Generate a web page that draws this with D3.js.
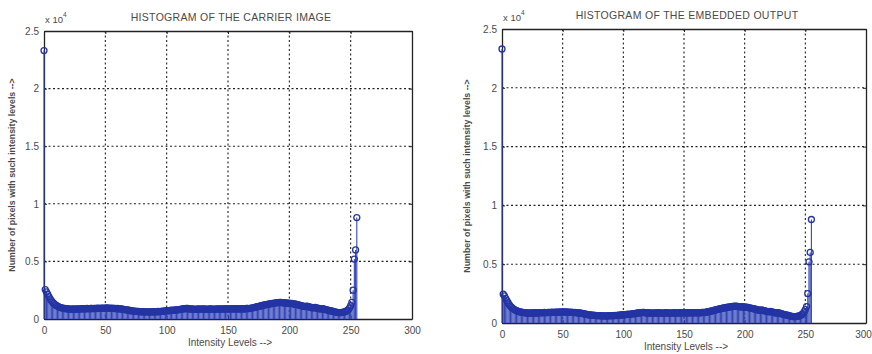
<!DOCTYPE html>
<html>
<head>
<meta charset="utf-8">
<script src="https://cdn.jsdelivr.net/npm/d3@7"></script>
<style>
  body { margin: 0; background: #fff; }
  svg { display: block; font-family: "Liberation Sans", Arial, sans-serif; }
</style>
</head>
<body>
<div id="chart"></div>
<script>
// intensity levels 0..255
const levels = d3.range(256);

// pixel counts per intensity level, carrier image
const carrierCounts = [
  23300, 2550, 2350, 2150, 1950, 1750, 1600, 1450, 1350, 1250, 1180, 1120, 1060, 1010, 980, 950,
  930, 910, 900, 880, 870, 860, 850, 860, 870, 850, 860, 880, 870, 860, 880, 890,
  900, 880, 890, 910, 900, 890, 920, 910, 900, 930, 920, 910, 940, 930, 920, 950,
  940, 930, 950, 960, 940, 950, 930, 940, 920, 930, 910, 900, 910, 890, 880, 870,
  860, 840, 820, 800, 780, 760, 740, 720, 700, 690, 680, 670, 660, 650, 640, 640,
  630, 630, 620, 620, 610, 620, 610, 620, 630, 620, 630, 640, 630, 650, 640, 660,
  670, 680, 690, 700, 720, 710, 730, 740, 760, 750, 770, 780, 800, 790, 820, 840,
  860, 870, 900, 890, 920, 910, 880, 870, 860, 880, 850, 840, 860, 850, 870, 860,
  850, 880, 860, 870, 850, 840, 860, 880, 870, 850, 860, 840, 870, 860, 880, 870,
  850, 870, 880, 860, 890, 870, 860, 880, 870, 890, 880, 870, 900, 890, 880, 870,
  890, 900, 880, 870, 890, 910, 920, 900, 930, 950, 970, 990, 1010, 1040, 1070, 1100,
  1120, 1150, 1170, 1200, 1220, 1250, 1270, 1290, 1310, 1330, 1350, 1360, 1380, 1400, 1420, 1430,
  1450, 1440, 1420, 1400, 1410, 1380, 1390, 1360, 1370, 1340, 1350, 1320, 1300, 1280, 1260, 1240,
  1210, 1180, 1150, 1120, 1100, 1080, 1120, 1090, 1060, 1030, 1000, 980, 960, 1000, 970, 940,
  910, 880, 860, 900, 870, 840, 810, 780, 750, 720, 700, 680, 650, 620, 600, 580,
  560, 550, 560, 570, 590, 620, 660, 720, 800, 950, 1150, 1450, 2500, 5200, 6000, 8800
];

// pixel counts per intensity level, embedded output
const embeddedCounts = [
  23300, 2450, 2300, 2100, 1900, 1720, 1560, 1420, 1320, 1230, 1160, 1100, 1050, 1000, 970, 940,
  920, 900, 890, 870, 860, 850, 840, 850, 860, 840, 850, 870, 860, 850, 870, 880,
  890, 870, 880, 900, 890, 880, 910, 900, 890, 920, 910, 900, 930, 920, 910, 940,
  930, 920, 940, 950, 930, 940, 920, 930, 910, 920, 900, 890, 900, 880, 870, 860,
  850, 830, 810, 790, 770, 750, 730, 710, 690, 680, 670, 660, 650, 640, 630, 630,
  620, 620, 610, 610, 600, 610, 600, 610, 620, 610, 620, 630, 620, 640, 630, 650,
  660, 670, 680, 690, 710, 700, 720, 730, 750, 740, 760, 770, 790, 780, 810, 830,
  850, 860, 890, 880, 910, 900, 870, 860, 850, 870, 840, 830, 850, 840, 860, 850,
  840, 870, 850, 860, 840, 830, 850, 870, 860, 840, 850, 830, 860, 850, 870, 860,
  840, 860, 870, 850, 880, 860, 850, 870, 860, 880, 870, 860, 890, 880, 870, 860,
  880, 890, 870, 860, 880, 900, 910, 890, 920, 940, 960, 980, 1000, 1030, 1060, 1090,
  1110, 1140, 1160, 1190, 1210, 1240, 1260, 1280, 1300, 1320, 1340, 1350, 1370, 1390, 1410, 1420,
  1440, 1430, 1410, 1390, 1400, 1370, 1380, 1350, 1360, 1330, 1340, 1310, 1290, 1270, 1250, 1230,
  1200, 1170, 1140, 1110, 1090, 1070, 1110, 1080, 1050, 1020, 990, 970, 950, 990, 960, 930,
  900, 870, 850, 890, 860, 830, 800, 770, 740, 710, 690, 670, 640, 610, 590, 570,
  550, 540, 550, 560, 580, 610, 650, 710, 790, 940, 1140, 1400, 2500, 5200, 6000, 8800
];

const xTicks = [0, 50, 100, 150, 200, 250, 300];
const yTicks = [0, 5000, 10000, 15000, 20000, 25000];
const yTickLabels = ["0", "0.5", "1", "1.5", "2", "2.5"];

const titles = ["HISTOGRAM OF THE CARRIER IMAGE", "HISTOGRAM OF THE EMBEDDED OUTPUT"];
const xLabel = "Intensity Levels  -->";
const yLabel = "Number of pixels with such intensity levels -->";

const W = 872, H = 354;
const svg = d3.select("#chart").append("svg")
  .attr("width", W).attr("height", H);
svg.append("rect").attr("width", W).attr("height", H).attr("fill", "#fff");

const panels = [
  { left: 44, right: 412, top: 31, bottom: 319, ylabX: 15, data: carrierCounts, title: titles[0] },
  { left: 502, right: 866, top: 29, bottom: 323, ylabX: 470, data: embeddedCounts, title: titles[1] }
];

const stemColor = "#3346b6";
const markColor = "#2434a4";
const textColor = "#4a4a4a";

panels.forEach((p, pi) => {
  const x = d3.scaleLinear().domain([0, 300]).range([p.left, p.right]);
  const y = d3.scaleLinear().domain([0, 25000]).range([p.bottom, p.top]);
  const g = svg.append("g");

  // grid
  g.append("g").selectAll("line").data(xTicks.slice(1, -1)).enter().append("line")
    .attr("x1", d => x(d)).attr("x2", d => x(d))
    .attr("y1", p.top).attr("y2", p.bottom)
    .attr("stroke", "#222").attr("stroke-width", 1.1).attr("stroke-dasharray", "2,2.5");
  g.append("g").selectAll("line").data(yTicks.slice(1, -1)).enter().append("line")
    .attr("x1", p.left).attr("x2", p.right)
    .attr("y1", d => y(d)).attr("y2", d => y(d))
    .attr("stroke", "#222").attr("stroke-width", 1.1).attr("stroke-dasharray", "2,2.5");

  // axes (box with inward ticks)
  const axB = d3.axisBottom(x).tickValues(xTicks).tickSizeInner(-3).tickSizeOuter(0).tickPadding(8);
  const axT = d3.axisTop(x).tickValues(xTicks).tickSizeInner(-3).tickSizeOuter(0).tickFormat("");
  const axL = d3.axisLeft(y).tickValues(yTicks).tickSizeInner(-3).tickSizeOuter(0).tickPadding(5)
    .tickFormat((d, i) => yTickLabels[i]);
  const axR = d3.axisRight(y).tickValues(yTicks).tickSizeInner(-3).tickSizeOuter(0).tickFormat("");

  const styleAxis = sel => {
    sel.select(".domain").attr("stroke", "#222").attr("stroke-width", 1.3);
    sel.selectAll(".tick line").attr("stroke", "#222");
    sel.selectAll(".tick text").attr("fill", textColor).attr("font-size", 10)
      .attr("font-family", "Liberation Sans, Arial, sans-serif");
  };
  const bottomAxis = g.append("g").attr("transform", `translate(0,${p.bottom})`).call(axB).call(styleAxis);
  // last label of the right panel sits at the window edge; nudge it inside
  if (pi === 1) bottomAxis.selectAll(".tick text").filter(d => d === 300).attr("dx", -3);
  g.append("g").attr("transform", `translate(0,${p.top})`).call(axT).call(styleAxis);
  g.append("g").attr("transform", `translate(${p.left},0)`).call(axL).call(styleAxis);
  g.append("g").attr("transform", `translate(${p.right},0)`).call(axR).call(styleAxis);

  // stems
  const stems = g.append("g");
  stems.selectAll("line").data(levels).enter().append("line")
    .attr("x1", d => x(d)).attr("x2", d => x(d))
    .attr("y1", y(0)).attr("y2", d => y(p.data[d]))
    .attr("stroke", stemColor).attr("stroke-width", 1.1);
  stems.selectAll("circle").data(levels).enter().append("circle")
    .attr("cx", d => x(d)).attr("cy", d => y(p.data[d]))
    .attr("r", 3).attr("fill", "none")
    .attr("stroke", markColor).attr("stroke-width", 1.3);

  // title
  g.append("text").attr("x", (p.left + p.right) / 2 + 3).attr("y", p.top - 10)
    .attr("text-anchor", "middle").attr("font-size", 10.5).attr("fill", textColor)
    .attr("letter-spacing", 0.3)
    .text(p.title);

  // exponent
  const ex = g.append("text").attr("x", p.left + 1).attr("y", p.top - 8)
    .attr("font-size", 9.5).attr("fill", textColor);
  ex.append("tspan").text("x 10");
  ex.append("tspan").attr("dy", -6).attr("font-size", 6.5).text("4");

  // x label
  g.append("text").attr("x", (p.left + p.right) / 2 + 2).attr("y", p.bottom + 27)
    .attr("text-anchor", "middle").attr("font-size", 10).attr("fill", textColor)
    .text(xLabel);

  // y label
  g.append("text")
    .attr("transform", `translate(${p.ylabX},${(p.top + p.bottom) / 2}) rotate(-90)`)
    .attr("text-anchor", "middle").attr("font-size", 8.8).attr("font-weight", "bold")
    .attr("fill", textColor)
    .text(yLabel);
});
</script>
</body>
</html>
